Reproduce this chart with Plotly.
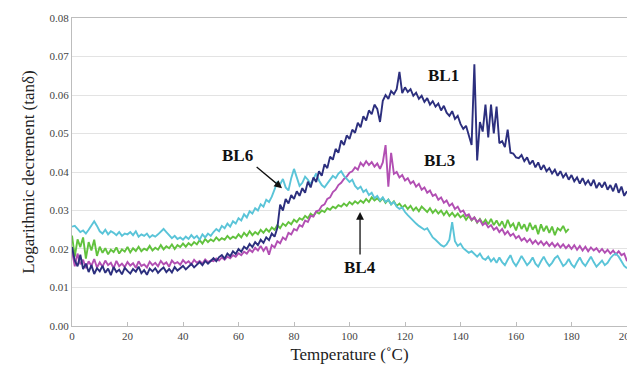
import plotly.graph_objects as go

# Temperature grid (°C)
temp_bl1 = list(range(0, 201))
temp_bl3 = list(range(0, 201))
temp_bl4 = list(range(0, 180))
temp_bl6 = list(range(0, 201))

# tan(delta) values, in units of 1e-3
bl1_milli = [
    20.5, 17.0, 15.5, 18.5, 14.8, 16.2, 14.0, 15.8, 13.5, 15.0, 14.2,
    15.6, 13.8, 14.9, 13.2, 15.3, 14.0, 14.6, 13.4, 15.1, 14.3,
    13.6, 14.8, 14.1, 15.4, 13.7, 14.5, 13.3, 14.9, 14.2, 15.0,
    13.8, 14.6, 15.2, 14.0, 14.8, 13.9, 15.3, 14.4, 15.0, 15.6,
    14.7, 15.5, 16.1, 15.2, 16.0, 16.6, 15.8, 16.9, 16.2, 17.0,
    17.6, 16.8, 17.9, 18.4, 17.5, 18.8, 18.1, 19.4, 18.7, 20.0,
    19.3, 20.6, 20.0, 21.3, 20.5, 21.8, 21.0, 22.4, 21.6, 23.0,
    22.3, 24.0, 23.2, 25.5, 31.5, 30.0, 33.0, 31.8, 34.0, 33.0,
    35.0, 33.8, 35.8, 34.6, 37.5, 36.0, 38.6, 37.4, 40.2, 39.0,
    42.0, 41.0, 44.0, 43.2, 46.0, 45.0, 48.2, 47.0, 49.5, 48.6,
    51.0, 50.2, 52.8, 51.6, 54.5, 53.4, 56.0, 55.0, 57.5, 56.4,
    53.0, 58.5, 60.0, 59.0, 61.0, 60.2, 61.5, 66.0, 60.5, 62.0,
    60.8, 61.5, 59.8, 60.6, 59.0, 59.8, 58.2, 59.2, 57.5, 58.4,
    57.0, 57.8, 56.0, 57.2, 55.4, 54.6, 55.8, 53.8, 54.6, 52.5,
    51.2, 52.0, 49.5, 47.0, 68.0, 43.0, 53.0, 50.5, 57.5, 49.0,
    57.5, 50.0, 57.0, 47.5, 48.0, 46.5, 51.0, 45.0, 44.8, 43.8,
    43.6, 44.4, 42.8, 43.8, 42.0, 43.0, 41.2, 42.5, 40.6, 41.8,
    40.2, 41.0, 39.6, 40.6, 39.0, 40.2, 38.6, 39.6, 38.0, 39.2,
    37.6, 38.6, 37.0, 38.4, 36.8, 37.8, 36.4, 38.0, 35.8, 37.2,
    36.0, 37.4, 35.4, 36.6, 35.0, 37.0, 34.6, 36.2, 33.8, 35.0,
]

bl3_milli = [
    19.5, 15.5, 18.8, 16.0, 17.2, 15.0, 16.8, 15.6, 17.4, 15.2, 16.5,
    15.4, 17.0, 15.8, 16.4, 15.0, 16.9, 15.5, 16.2, 15.3, 16.6,
    15.7, 16.3, 15.1, 16.8, 15.6, 16.0, 15.2, 16.7, 15.8, 16.4,
    15.5, 16.9, 16.0, 16.5, 15.4, 17.0, 16.2, 16.6, 15.9, 17.1,
    16.3, 16.8, 16.0, 17.2, 16.4, 16.9, 16.2, 17.3, 16.6, 17.0,
    16.8, 17.5, 17.0, 17.8, 17.2, 18.0, 17.6, 18.4, 18.0, 18.9,
    18.4, 19.3, 18.8, 19.8, 19.2, 20.3, 19.6, 20.8, 19.5, 20.6,
    18.5, 21.0, 20.4, 22.0, 21.5, 23.0, 22.4, 24.2, 23.8, 25.2,
    24.8, 26.2, 25.8, 27.4, 27.0, 28.6, 28.4, 29.8, 30.0, 31.2,
    31.6, 33.0, 33.4, 34.8, 35.4, 36.6, 37.2, 38.2, 38.8, 39.8,
    40.2, 41.2, 40.6, 42.4, 41.6, 42.8, 41.8, 42.6, 41.4, 42.2,
    40.8, 42.5, 47.0, 36.2, 45.0, 39.5, 40.0, 38.6, 39.2, 37.8,
    38.4, 37.0, 37.6, 36.2, 36.9, 35.4, 36.0, 34.6, 35.2, 33.8,
    34.2, 32.8, 33.4, 32.0, 32.6, 31.2, 31.8, 30.4, 31.0, 29.6,
    30.0, 28.6, 29.0, 27.6, 28.2, 27.0, 27.6, 26.2, 26.8, 25.6,
    26.2, 25.0, 25.6, 24.4, 25.2, 23.8, 24.6, 23.4, 24.0, 22.8,
    23.4, 22.2, 22.8, 21.8, 22.6, 21.4, 22.2, 21.2, 22.0, 21.0,
    21.8, 20.8, 21.6, 20.6, 21.4, 20.4, 21.2, 20.2, 21.0, 20.0,
    21.0, 19.8, 20.8, 19.6, 20.6, 19.4, 20.4, 19.6, 20.2, 19.2,
    20.0, 19.0, 19.8, 18.8, 19.6, 18.6, 19.4, 18.4, 18.8, 16.8,
]

bl4_milli = [
    23.5, 18.0, 22.5, 20.5, 23.0, 17.5, 21.8, 19.6, 22.4, 18.2, 20.6,
    19.0, 20.2, 18.6, 19.8, 19.2, 20.4, 18.8, 19.9, 19.3, 20.5,
    19.1, 20.2, 19.5, 20.6, 19.4, 20.1, 19.7, 20.8, 19.6, 20.3,
    19.8, 21.0, 19.9, 20.7, 20.2, 21.2, 20.0, 21.0, 20.5, 21.4,
    20.6, 21.5, 20.9, 21.8, 21.2, 22.3, 21.4, 22.6, 21.8, 22.5,
    22.0, 23.0, 22.2, 22.8, 22.4, 23.4, 22.6, 23.2, 22.8, 23.8,
    23.0, 24.2, 23.4, 24.6, 23.6, 24.4, 23.8, 25.0, 24.2, 25.2,
    24.5, 25.6, 25.0, 26.2, 25.4, 26.6, 26.0, 27.0, 26.4, 27.6,
    27.0, 28.0, 27.6, 28.6, 28.0, 29.2, 28.6, 29.6, 29.2, 30.0,
    29.6, 30.6, 30.2, 31.0, 30.6, 31.4, 31.0, 31.8, 31.2, 32.2,
    31.6, 32.4, 31.8, 32.6, 32.0, 33.0, 32.2, 33.4, 32.6, 33.2,
    32.4, 33.2, 32.0, 32.8, 31.6, 32.4, 31.2, 31.8, 30.8, 31.4,
    30.4, 31.2, 30.0, 30.8, 29.8, 31.0, 30.2, 29.6, 30.6, 29.4,
    30.2, 29.2, 30.0, 28.8, 29.8, 28.6, 29.4, 28.4, 29.2, 28.2,
    28.8, 27.6, 28.6, 27.4, 28.2, 26.8, 27.8, 26.6, 27.6, 26.4,
    27.8, 26.2, 27.4, 26.0, 27.2, 25.4, 27.6, 25.8, 26.6, 24.8,
    27.0, 25.2, 26.4, 24.6, 26.8, 25.0, 26.2, 23.8, 26.4, 24.6,
    26.0, 24.2, 25.8, 23.6, 25.4, 24.8, 26.0, 24.4, 25.2,
]

bl6_milli = [
    25.8, 26.0, 25.2, 24.4, 24.8, 24.0, 25.0, 26.2, 27.2, 26.0, 24.6,
    24.0, 25.0, 23.8, 24.6, 24.2, 23.6, 24.4, 23.4, 24.0, 23.8,
    24.4, 23.6, 24.6, 23.2, 23.8, 23.4, 24.0, 23.0, 23.6, 23.2,
    23.8, 24.6, 25.2, 24.4, 23.6, 22.8, 23.4, 22.6, 23.0, 22.4,
    23.2, 22.6, 23.6, 22.8, 23.4, 22.4, 23.8, 23.0, 24.0, 23.4,
    24.4, 25.2, 24.6, 26.0, 25.4, 26.6, 25.8, 27.2, 26.6, 28.0,
    27.4, 29.0, 28.2, 29.8, 29.2, 30.6, 30.0, 31.6, 31.0, 32.8,
    32.2, 33.6, 35.5, 37.4, 36.8, 38.2, 36.0, 35.2, 38.4, 40.8,
    38.6, 36.4, 37.2, 38.8, 38.0, 36.8, 38.2, 39.6, 37.8, 36.6,
    36.0, 37.0, 38.2, 39.0, 38.4, 39.6, 40.2, 39.0, 38.2, 37.4,
    38.0, 36.4, 35.6, 36.2, 34.8, 35.4, 34.0, 34.6, 33.2, 33.8,
    32.6, 33.4, 32.2, 32.8, 31.6, 32.2, 31.0, 30.4, 30.8, 29.6,
    28.8, 28.0, 27.2, 26.6, 26.0, 25.6, 25.0, 25.4, 24.2, 23.0,
    22.4, 21.6, 21.0, 20.6, 21.2, 22.4, 27.0, 22.0, 20.8, 21.4,
    20.2, 19.6, 19.0, 19.4, 18.6, 18.0, 18.8, 17.6, 17.2, 18.0,
    16.8, 17.6, 16.4, 17.8, 16.6, 15.8, 17.2, 18.4, 16.6, 15.6,
    16.8, 18.2, 17.0, 15.8, 16.6, 17.8, 16.2, 15.4, 16.8, 18.0,
    16.6, 15.6, 16.4, 17.6, 18.2, 16.8, 15.6, 16.2, 17.4, 16.0,
    15.2, 16.6, 17.8, 16.4, 15.6, 16.8, 18.0, 16.6, 15.4, 16.2,
    17.0, 15.8, 16.4, 17.6, 18.4, 18.8, 18.0, 16.8, 15.6, 15.0,
]

x_ticks = [0, 20, 40, 60, 80, 100, 120, 140, 160, 180, 200]
y_ticks = [0.00, 0.01, 0.02, 0.03, 0.04, 0.05, 0.06, 0.07, 0.08]


def to_tan(vals):
    return [v / 1000.0 for v in vals]


series = [
    ("BL4", temp_bl4, bl4_milli, "#62C23E"),
    ("BL3", temp_bl3, bl3_milli, "#B24FB3"),
    ("BL6", temp_bl6, bl6_milli, "#5AC4D8"),
    ("BL1", temp_bl1, bl1_milli, "#2C2F7E"),
]

fig = go.Figure()
for name, xs, ys, color in series:
    fig.add_trace(go.Scatter(x=xs, y=to_tan(ys), mode="lines", name=name,
                             line=dict(color=color, width=1.9), showlegend=False))

serif = "Liberation Serif"

# The page body has an 8px default margin, so the figure is sized to fit inside it
fig.update_layout(
    width=627, height=367,
    margin=dict(l=64, r=8, t=10, b=49),
    paper_bgcolor="white", plot_bgcolor="white",
    font=dict(family=serif, color="#333333"),
    xaxis=dict(range=[-0.001, 200.001], tickvals=x_ticks, ticktext=[str(t) for t in x_ticks],
               showgrid=False, zeroline=False, showline=True, linecolor="#bdbdbd",
               linewidth=1, mirror=True, ticks="inside", ticklen=4, tickcolor="#bdbdbd",
               automargin=False, ticklabeloverflow="allow",
               tickfont=dict(size=11, family=serif, color="#444444"),
               title=dict(text="Temperature (˚C)", font=dict(size=17, family=serif, color="#222222"),
                          standoff=6)),
    yaxis=dict(range=[-0.00001, 0.08001], tickvals=y_ticks, ticktext=["%.2f" % t for t in y_ticks],
               showgrid=True, gridcolor="#e3e3e3", gridwidth=1, zeroline=False,
               showline=True, linecolor="#bdbdbd", linewidth=1, mirror=True, ticks="",
               automargin=False,
               tickfont=dict(size=11, family=serif, color="#444444"),
               title=dict(text="Logarithmic decrement (tanδ)", font=dict(size=17, family=serif, color="#222222"),
                          standoff=10)),
)

label_font = dict(size=17, family=serif, color="#111111")
labels = [
    ("<b>BL1</b>", 133.7, 0.0652),
    ("<b>BL3</b>", 132.6, 0.0431),
    ("<b>BL6</b>", 59.5, 0.0444),
    ("<b>BL4</b>", 103.8, 0.0151),
]
for text, x, y in labels:
    fig.add_annotation(x=x, y=y, text=text, showarrow=False, font=label_font)

arrows = [
    (75.7, 0.0358, 66.0, 0.0416),
    (103.8, 0.0296, 103.8, 0.0182),
]
for hx, hy, tx, ty in arrows:
    fig.add_annotation(x=hx, y=hy, ax=tx, ay=ty, xref="x", yref="y", axref="x", ayref="y",
                       text="", showarrow=True, arrowhead=2, arrowsize=1.2, arrowwidth=1.3,
                       arrowcolor="#111111")

fig.write_html("out.html")
